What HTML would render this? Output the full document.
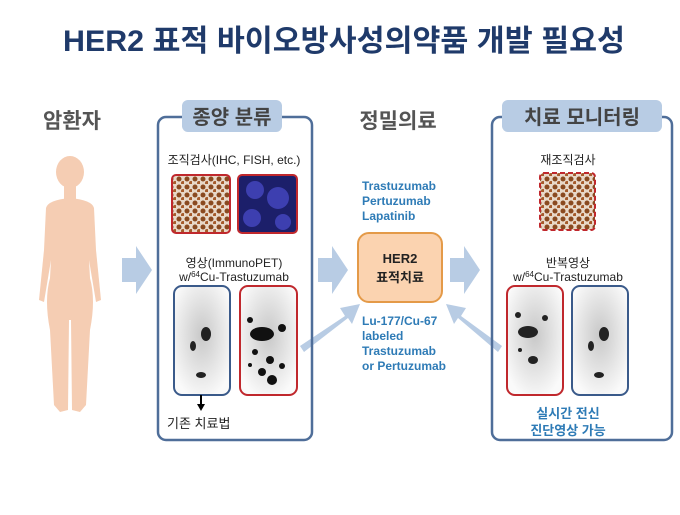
<!DOCTYPE html>
<html><head><meta charset="utf-8"><style>
body{margin:0;background:#fff;}
svg text{font-family:"Liberation Sans","Noto Sans CJK KR",sans-serif;}
</style></head><body>
<svg width="680" height="510" viewBox="0 0 680 510" xmlns="http://www.w3.org/2000/svg">
<defs>
<pattern id="ihc" width="8" height="8" patternUnits="userSpaceOnUse"><rect width="8" height="8" fill="#e8d8c8"/><circle cx="3" cy="3" r="2.5" fill="#8a4a20"/><circle cx="7" cy="7" r="2" fill="#a55a2a"/></pattern>
<radialGradient id="pet" cx="50%" cy="45%" r="60%"><stop offset="0" stop-color="#c8c8c8"/><stop offset="1" stop-color="#fafafa"/></radialGradient>
</defs>
<text x="344" y="51" text-anchor="middle" font-size="30" font-weight="bold" fill="#1f3a6a" textLength="562" lengthAdjust="spacingAndGlyphs">HER2 표적 바이오방사성의약품 개발 필요성</text>

<text x="72" y="128" text-anchor="middle" font-size="21" font-weight="bold" fill="#555">암환자</text>
<g fill="#f5cdb3">
<ellipse cx="70" cy="172" rx="14" ry="16"/>
<rect x="64" y="184" width="12" height="18"/>
<path d="M46 208 Q48 200 70 198 Q92 200 94 208 L96 250 L101 300 L96 302 L89 260 L90 278 Q96 300 90 330 L86 405 L80 412 L72 410 L71 320 L69 320 L68 410 L60 412 L54 405 L50 330 Q44 300 50 278 L51 260 L44 302 L39 300 L44 250 Z"/>
</g>

<g fill="#b8cce4">
<path d="M122 258 H136 V246 L152 270 L136 294 V282 H122 Z"/>
<path d="M318 258 H332 V246 L348 270 L332 294 V282 H318 Z"/>
<path d="M450 258 H464 V246 L480 270 L464 294 V282 H450 Z"/>
<path d="M300 346 L345 316 L340 308 L360 304 L352 324 L348 318 L304 352 Z"/>
<path d="M502 346 L461 316 L466 308 L446 304 L454 324 L458 318 L498 352 Z"/>
</g>

<rect x="158" y="117" width="154" height="323" rx="8" fill="none" stroke="#4f6e99" stroke-width="2.5"/>
<rect x="182" y="100" width="100" height="32" rx="6" fill="#b8cce4"/>
<text x="232" y="124" text-anchor="middle" font-size="20" font-weight="bold" fill="#444">종양 분류</text>
<text x="234" y="164" text-anchor="middle" font-size="12" fill="#222">조직검사(IHC, FISH, etc.)</text>
<rect x="172" y="175" width="58" height="58" rx="4" fill="url(#ihc)" stroke="#c0282d" stroke-width="2"/>
<rect x="238" y="175" width="59" height="58" rx="4" fill="#1c1f6a" stroke="#c0282d" stroke-width="2"/>
<g fill="#3d3fb0"><circle cx="255" cy="190" r="9"/><circle cx="278" cy="198" r="11"/><circle cx="252" cy="218" r="9"/><circle cx="283" cy="222" r="8"/></g>
<text x="234" y="267" text-anchor="middle" font-size="12" fill="#222">영상(ImmunoPET)</text>
<text x="234" y="281" text-anchor="middle" font-size="12" fill="#222">w/<tspan font-size="8" dy="-4">64</tspan><tspan dy="4">Cu-Trastuzumab</tspan></text>
<rect x="174" y="286" width="56" height="109" rx="8" fill="url(#pet)" stroke="#3a5a8a" stroke-width="2"/>
<g fill="#222"><ellipse cx="206" cy="334" rx="5" ry="7"/><ellipse cx="193" cy="346" rx="3" ry="5"/><ellipse cx="201" cy="375" rx="5" ry="3"/></g>
<rect x="240" y="286" width="57" height="109" rx="8" fill="url(#pet)" stroke="#c0282d" stroke-width="2"/>
<g fill="#111"><ellipse cx="262" cy="334" rx="12" ry="7"/><circle cx="250" cy="320" r="3"/><circle cx="282" cy="328" r="4"/><circle cx="255" cy="352" r="3"/><circle cx="270" cy="360" r="4"/><circle cx="262" cy="372" r="4"/><circle cx="272" cy="380" r="5"/><circle cx="282" cy="366" r="3"/><circle cx="250" cy="365" r="2"/></g>
<path d="M201 395 V406" stroke="#000" stroke-width="2"/><path d="M197 404 L201 411 L205 404 Z" fill="#000"/>
<text x="167" y="428" font-size="13" fill="#222">기존 치료법</text>

<text x="398" y="128" text-anchor="middle" font-size="21" font-weight="bold" fill="#555">정밀의료</text>
<g font-size="12" font-weight="bold" fill="#2e7bb6">
<text x="362" y="190">Trastuzumab</text><text x="362" y="205">Pertuzumab</text><text x="362" y="220">Lapatinib</text>
<text x="362" y="325">Lu-177/Cu-67</text><text x="362" y="340">labeled</text><text x="362" y="355">Trastuzumab</text><text x="362" y="370">or Pertuzumab</text>
</g>
<rect x="358" y="233" width="84" height="69" rx="11" fill="#fbd3b0" stroke="#e49a48" stroke-width="2"/>
<text x="400" y="263" text-anchor="middle" font-size="13" font-weight="bold" fill="#222">HER2</text>
<text x="400" y="282" text-anchor="middle" font-size="13" font-weight="bold" fill="#222">표적치료</text>

<rect x="492" y="117" width="180" height="323" rx="8" fill="none" stroke="#4f6e99" stroke-width="2.5"/>
<rect x="502" y="100" width="160" height="32" rx="6" fill="#b8cce4"/>
<text x="582" y="124" text-anchor="middle" font-size="20" font-weight="bold" fill="#444">치료 모니터링</text>
<text x="568" y="164" text-anchor="middle" font-size="12" fill="#222">재조직검사</text>
<rect x="540" y="173" width="55" height="57" rx="4" fill="url(#ihc)" stroke="#c0282d" stroke-width="2" stroke-dasharray="5 3"/>
<text x="568" y="267" text-anchor="middle" font-size="12" fill="#222">반복영상</text>
<text x="568" y="281" text-anchor="middle" font-size="12" fill="#222">w/<tspan font-size="8" dy="-4">64</tspan><tspan dy="4">Cu-Trastuzumab</tspan></text>
<rect x="507" y="286" width="56" height="109" rx="8" fill="url(#pet)" stroke="#c0282d" stroke-width="2"/>
<g fill="#222"><ellipse cx="528" cy="332" rx="10" ry="6"/><circle cx="518" cy="315" r="3"/><circle cx="545" cy="318" r="3"/><ellipse cx="533" cy="360" rx="5" ry="4"/><circle cx="520" cy="350" r="2"/></g>
<rect x="572" y="286" width="56" height="109" rx="8" fill="url(#pet)" stroke="#3a5a8a" stroke-width="2"/>
<g fill="#222"><ellipse cx="604" cy="334" rx="5" ry="7"/><ellipse cx="591" cy="346" rx="3" ry="5"/><ellipse cx="599" cy="375" rx="5" ry="3"/></g>
<g font-size="13" font-weight="bold" fill="#2e7bb6" text-anchor="middle">
<text x="568" y="418">실시간 전신</text><text x="568" y="435">진단영상 가능</text></g>
</svg>
</body></html>
